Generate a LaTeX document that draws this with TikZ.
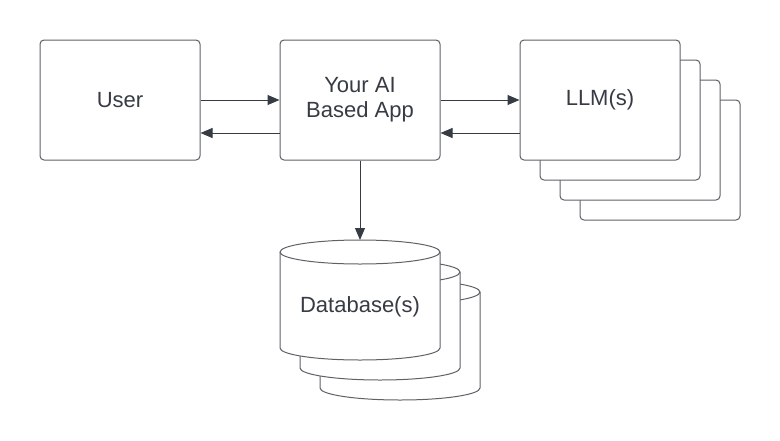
\documentclass[tikz,border=0pt]{standalone}
\usepackage{fontspec}
\setmainfont{Liberation Sans}
\usetikzlibrary{arrows.meta,positioning}
\definecolor{linegray}{HTML}{5E6166}
\definecolor{inkdark}{HTML}{363B44}

\begin{document}
\begin{tikzpicture}[x=1pt, y=-1pt]
    % Stili
    \tikzset{
        box/.style={rectangle, draw=linegray, fill=white, line width=1pt, rounded corners=4pt, minimum width=160pt, minimum height=120pt, align=center, text=inkdark, font=\fontsize{22}{25}\selectfont},
        copybox/.style={box, minimum width=160pt, minimum height=120pt},
        cyl/.style={draw=linegray, fill=white, line width=1pt},
        arrow/.style={-{Triangle[length=12pt, width=10pt]}, draw=inkdark, fill=inkdark, line width=1pt},
        label/.style={text=inkdark, font=\fontsize{22}{25}\selectfont}
    }
    \useasboundingbox (0,0) rectangle (780,440);

    % Copie dietro LLM
    \node[copybox] (llmc) at (660,160) {};
    \node[copybox] (llmb) at (640,140) {};
    \node[copybox] (llma) at (620,120) {};

    % Blocchi principali
    \node[box] (user) at (120,100) {User};
    \node[box] (app) at (360,100) {Your AI\\Based App};
    \node[box] (llm) at (600,100) {LLM(s)};

    % Database (tre cilindri)
    \draw[cyl] (320,292) -- (320,388) arc[start angle=180, end angle=0, x radius=80, y radius=12]
        -- (480,292) arc[start angle=0, end angle=-180, x radius=80, y radius=12] -- cycle;
    \draw[cyl] (320,292) arc[start angle=180, end angle=0, x radius=80, y radius=12];
    \draw[cyl] (300,272) -- (300,368) arc[start angle=180, end angle=0, x radius=80, y radius=12]
        -- (460,272) arc[start angle=0, end angle=-180, x radius=80, y radius=12] -- cycle;
    \draw[cyl] (300,272) arc[start angle=180, end angle=0, x radius=80, y radius=12];
    \draw[cyl] (280,252) -- (280,348) arc[start angle=180, end angle=0, x radius=80, y radius=12]
        -- (440,252) arc[start angle=0, end angle=-180, x radius=80, y radius=12] -- cycle;
    \draw[cyl] (280,252) arc[start angle=180, end angle=0, x radius=80, y radius=12];
    \node[label] (db) at (360,307) {Database(s)};
    \coordinate (dbtop) at (360,240);

    % Frecce
    \draw[arrow] (user.east) -- (app.west);
    \draw[arrow] ([yshift=-33pt]app.west) -- ([yshift=-33pt]user.east);
    \draw[arrow] (app.east) -- (llm.west);
    \draw[arrow] ([yshift=-33pt]llm.west) -- ([yshift=-33pt]app.east);
    \draw[arrow] (app.south) -- (dbtop);
\end{tikzpicture}
\end{document}
